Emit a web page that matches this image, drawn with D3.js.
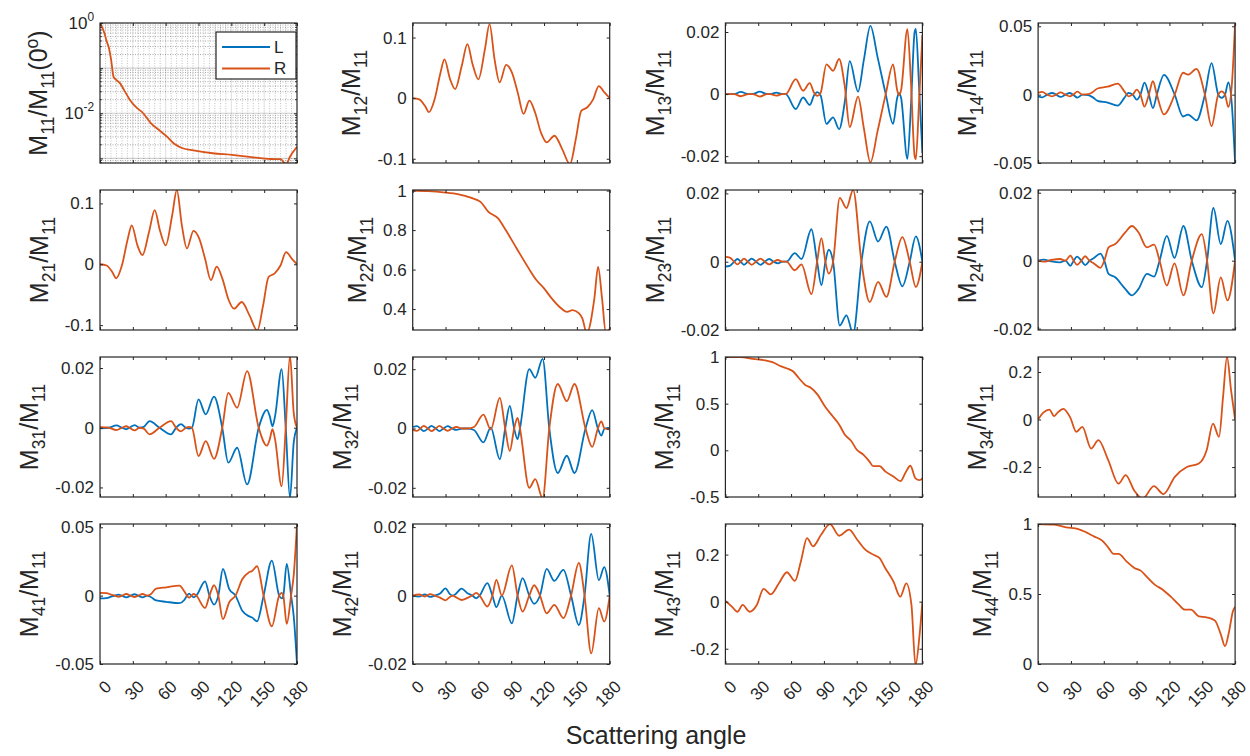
<!DOCTYPE html>
<html>
<head>
<meta charset="utf-8">
<script src="https://d3js.org/d3.v7.min.js"></script>
<style>
  body { margin: 0; background: #fff; }
  text { font-family: "Liberation Sans", Arial, Helvetica, sans-serif; fill: #262626; }
</style>
</head>
<body>
<script>
const W = 1250, H = 756;
const angleTicks = [0, 30, 60, 90, 120, 150, 180];

// single-curve panels: [angle, value]
const m11 = [[0,1],[2,0.8],[4.2,0.58],[6,0.4],[7.8,0.30],[10.2,0.15],[12.4,0.064],[14.8,0.055],[18.4,0.046],[21.9,0.033],[27.2,0.020],[32.5,0.014],[39.5,0.010],[46.6,0.006],[53.7,0.0043],[60.7,0.0031],[67.8,0.0021],[74.8,0.0017],[85.4,0.0015],[103,0.0013],[120.7,0.0012],[138,0.00107],[156,0.00097],[165,0.00096],[170,0.00074],[173.7,0.0011],[180,0.0018]];
const m12 = [[0,0],[6,-0.002],[11.3,-0.013],[14.8,-0.023],[20,-0.002],[25.4,0.042],[29,0.064],[34.2,0.031],[38.8,0.015],[44.8,0.053],[50,0.089],[54.7,0.056],[60,0.031],[66,0.081],[70.2,0.122],[74.8,0.064],[79.4,0.026],[85.4,0.055],[90.7,0.042],[96,0.009],[101.3,-0.026],[106.6,-0.004],[111.9,-0.024],[117.2,-0.057],[122.5,-0.073],[129.5,-0.062],[136.6,-0.084],[143.7,-0.109],[149,-0.068],[154,-0.021],[159.6,-0.015],[164.9,-0.002],[170,0.020],[175.4,0.009],[180,0]];
const m21 = m12;
const m22 = [[0,1.0],[14,0.997],[28,0.991],[42,0.981],[53,0.964],[62,0.943],[69,0.893],[78,0.859],[85,0.8],[95,0.707],[106,0.606],[113,0.547],[120,0.505],[127,0.454],[134,0.412],[141,0.386],[146,0.395],[152,0.378],[155,0.353],[159,0.28],[166,0.454],[169.4,0.614],[173,0.454],[176.5,0.28],[180,0.30]];
const m33 = [[0,1.0],[14,1.0],[25,0.98],[36,0.965],[43,0.945],[51,0.90],[58,0.87],[62,0.845],[67,0.775],[73,0.70],[78,0.67],[84,0.60],[91,0.47],[98,0.365],[104,0.275],[109,0.17],[115,0.10],[120,0.007],[126,-0.046],[131.5,-0.118],[135,-0.17],[141,-0.17],[146,-0.225],[153.5,-0.28],[160,-0.33],[164.5,-0.24],[169,-0.165],[173.7,-0.30],[177.4,-0.32],[180,-0.30]];
const m34 = [[0,0],[5,0.03],[10.3,0.042],[14.7,0.014],[18,0.03],[23.1,0.045],[29.4,0.008],[34.9,-0.052],[40.4,-0.031],[48.5,-0.122],[55.1,-0.087],[64,-0.17],[73.5,-0.27],[80,-0.234],[88,-0.30],[95.5,-0.333],[105.8,-0.28],[114.6,-0.314],[124.9,-0.241],[135.9,-0.2],[146.9,-0.185],[154,-0.129],[159.8,-0.017],[165.3,-0.073],[169,0.095],[172.6,0.264],[176.3,0.124],[180,0]];
const m43 = [[0,0.003],[5.9,-0.021],[11,-0.043],[15.8,-0.014],[22,-0.043],[28.7,-0.014],[34.9,0.054],[41.5,0.031],[48.9,0.078],[56.2,0.125],[63.5,0.088],[69,0.172],[74.6,0.27],[80,0.235],[87.4,0.284],[95.5,0.33],[104,0.28],[113,0.306],[120.5,0.263],[127.8,0.221],[135,0.2],[140.7,0.186],[146,0.143],[153.5,0.086],[159.8,0.021],[165.3,0.078],[170,-0.014],[173.7,-0.27],[177.4,-0.142],[180,0]];
const m44 = [[0,1.0],[14.7,0.995],[25.7,0.976],[36.7,0.964],[44,0.94],[51.4,0.91],[58.8,0.88],[64.3,0.83],[69,0.786],[73.5,0.786],[80.8,0.733],[88,0.686],[93.7,0.667],[99,0.626],[106.5,0.567],[113.9,0.531],[121,0.483],[128.6,0.424],[134,0.388],[139.6,0.388],[147,0.34],[154,0.333],[161.6,0.31],[167,0.21],[170.8,0.127],[174.5,0.233],[178,0.376],[180,0.41]];

// two-curve panels: [angle, R, L]
const m13 = [[0,0,0],[8,0,0],[14,-0.0007,0.0007],[21,0,0],[25,0,0],[31.4,-0.0008,0.0008],[38,0,0],[41,0,0],[46.6,-0.0005,0.0005],[52,0,0],[55.1,0,0],[64.3,0.0048,-0.0048],[71,0.0011,-0.0011],[77.1,0.0035,-0.0035],[81,0.0004,-0.0004],[84,-0.0006,0.0006],[87,0.0004,-0.0004],[92.3,0.0096,-0.0096],[98.4,0.0075,-0.0075],[103.9,0.0113,-0.0113],[109,0.0027,-0.0027],[113.6,-0.0106,0.0106],[121.2,-0.0008,0.0008],[126.5,-0.011,0.011],[132.5,-0.022,0.022],[139,-0.012,0.012],[146.5,0,0],[153.2,0.0096,-0.0096],[157,0.0012,-0.0012],[158.7,-0.0003,0.0003],[160.5,0.0012,-0.0012],[166.3,0.0209,-0.0209],[169.5,0.004,-0.004],[172.9,-0.02,0.02],[174,-0.021,0.021],[177,-0.002,0.002],[180,0.019,-0.019]];
const m14 = [[0,0.0012,-0.0012],[3.7,0.002,-0.002],[8.3,0,0],[12.9,-0.0012,0.0012],[16.5,0,0],[20.5,0.0017,-0.0017],[25,0,0],[28.8,-0.0012,0.0012],[32,0,0],[35.9,0.0022,-0.0022],[40.5,0,0],[45.7,0.0003,-0.0003],[50,0.002,-0.002],[54.3,0.0045,-0.0045],[63.5,0.0058,-0.0058],[72.7,0.008,-0.008],[78.8,0.0024,-0.0024],[82.5,-0.0012,0.0012],[86.5,0,0],[90.1,0.0037,-0.0037],[93.5,0,0],[97.2,-0.0088,0.0088],[101.2,0,0],[104.9,0.0098,-0.0098],[108.5,0,0],[115,-0.0145,0.0145],[124.8,0,0],[132.5,0.016,-0.016],[137,0.0146,-0.0146],[144.7,0.0188,-0.0188],[152.4,0,0],[158.5,-0.023,0.023],[164.6,0,0],[167.7,0.0024,-0.0024],[170.8,0,0],[173.8,-0.009,0.009],[176.9,0.006,-0.006],[180,0.052,-0.05]];
const m23 = [[0,0.0014,-0.0014],[4,0.0012,-0.0012],[8,0,0],[11,-0.0008,0.0008],[14,0,0],[17,0.0009,-0.0009],[20.5,0,0],[24,-0.0009,0.0009],[28,0,0],[32,0.0009,-0.0009],[36,0,0],[40,-0.0008,0.0008],[44,0,0],[48,0.0005,-0.0005],[52,0,0],[55.7,0,0],[63.4,-0.0025,0.0025],[69.5,-0.0008,0.0008],[78.6,-0.0095,0.0095],[83.8,0,0],[87.7,0.0069,-0.0069],[91.4,0,0],[94.4,-0.0035,0.0035],[98.4,0,0],[104.5,0.0187,-0.0187],[110.6,0.0157,-0.0157],[116.7,0.021,-0.021],[124.3,0,0],[131.9,-0.0118,0.0118],[139.5,-0.0059,0.0059],[147.1,-0.0103,0.0103],[154.7,0,0],[161.7,0.0072,-0.0072],[168.4,0,0],[174,-0.0074,0.0074],[180,0,0]];
const m24 = [[0,0,0],[5,-0.0003,0.0003],[12,0.0002,-0.0002],[20,0.0005,-0.0005],[25,0,0],[29.5,0.0015,-0.0015],[32.5,0,0],[35.6,-0.0012,0.0012],[39.5,0,0],[43,0.0013,-0.0013],[47,0,0],[51,-0.0008,0.0008],[56.9,-0.0021,0.0021],[60.5,0,0],[64.4,0.0039,-0.0039],[70.5,0.0049,-0.0049],[79.6,0.0083,-0.0083],[85.7,0.0102,-0.0102],[91.8,0.0083,-0.0083],[99.4,0.0039,-0.0039],[106,0.0047,-0.0047],[111,0,0],[117.6,-0.0073,0.0073],[124.6,-0.0008,0.0008],[132.8,-0.0102,0.0102],[140.4,0,0],[149.6,0.0078,-0.0078],[154.4,0,0],[160.2,-0.0155,0.0155],[166.9,-0.0049,0.0049],[173,-0.0117,0.0117],[180,0,0]];
const m31 = [[0,0.0002,-0.0002],[8,0,0],[15,-0.0008,0.0008],[20,0,0],[24,0.0005,-0.0005],[27,0,0],[31.7,-0.0009,0.0009],[36,0,0],[40,-0.0003,0.0003],[45.3,-0.0022,0.0022],[54.4,0,0],[64.9,0.0022,-0.0022],[69.5,0,0],[74,-0.0012,0.0012],[78.5,0,0],[81.5,0.0003,-0.0003],[84,0,0],[90,-0.0095,0.0095],[96.6,-0.0045,0.0045],[104.2,-0.0104,0.0104],[111.7,0,0],[117.2,0.0117,-0.0117],[125.3,0.0067,-0.0067],[134.4,0.019,-0.019],[145,0,0],[152.5,-0.006,0.006],[155,-0.004,0.004],[157.6,-0.0005,0.0005],[160,-0.004,0.004],[166,-0.0196,0.0196],[169.7,0,0],[173.6,0.0242,-0.0235],[177,0.005,-0.005],[180,0,0]];
const m32 = [[0,-0.0005,0.0005],[4,-0.0008,0.0008],[7,0,0],[10,0.0009,-0.0009],[14,0,0],[17,-0.0009,0.0009],[21,0,0],[24.5,0.0009,-0.0009],[28,0,0],[32,-0.0008,0.0008],[36,0,0],[40,0.0005,-0.0005],[45,0,0],[50,0,0],[56,0.0005,-0.0005],[64.6,0.0047,-0.0047],[71.3,-0.0003,0.0003],[79.6,0.0103,-0.0103],[84.5,0,0],[88.7,-0.0076,0.0076],[92.7,0,0],[95.8,0.0036,-0.0036],[98,0,0],[106.5,-0.02,0.02],[112,-0.0171,0.0171],[118.7,-0.0235,0.0235],[124.8,0,0],[132.5,0.015,-0.015],[140.8,0.0092,-0.0092],[147.8,0.015,-0.015],[157.9,0,0],[164,-0.0062,0.0062],[169.2,0,0],[172.3,0.0024,-0.0024],[175.3,0,0],[180,-0.0003,0.0003]];
const m41 = [[0,0.002,-0.002],[6,0.0018,-0.0018],[10,0.0008,-0.0008],[13.6,0,0],[17,-0.0008,0.0008],[20,0,0],[24,0.0012,-0.0012],[28,0,0],[31.5,-0.001,0.001],[35,0,0],[39,0.0012,-0.0012],[43,0,0],[46,0.0008,-0.0008],[51.3,0.0051,-0.0035],[60.4,0.0061,-0.0045],[72.5,0.0073,-0.0055],[77,0.0032,-0.0032],[79.5,0,0],[81.5,-0.0015,0.0015],[83.5,0,0],[85.5,0.0012,-0.0012],[88,0,0],[96,-0.009,0.0105],[100,0,0],[104.2,0.0076,-0.0065],[108.1,0,0],[112.3,-0.0172,0.0195],[118,-0.005,0.005],[123.8,0,0],[130,0.012,-0.011],[135.9,0.017,-0.015],[139,0.018,-0.016],[143.5,0.0215,-0.0188],[149.5,0,0],[157,-0.0224,0.0256],[163.7,0,0],[166,0.002,-0.002],[167.5,0,0],[170.6,-0.0207,0.0232],[174.6,0,0],[177,0.015,-0.015],[180,0.0524,-0.05]];
const m42 = [[0,0,0],[6,0.0003,-0.0003],[11,-0.0003,0.0003],[16,0.0004,-0.0004],[20,0,0],[25,-0.0006,0.0006],[30,-0.0014,0.0021],[34,-0.0004,0.0004],[36.7,0,0],[39,-0.0004,0.0004],[44.7,-0.0013,0.002],[50,-0.0007,0.0007],[54.5,0,0],[58,0.0008,-0.0008],[61.2,0,0],[68.2,-0.0032,0.0036],[72.8,0,0],[76.5,0.0046,-0.0034],[81.4,0,0],[90.6,0.0088,-0.0081],[95.8,0,0],[100.4,-0.0047,0.0051],[106.5,0,0],[111,0.003,-0.0024],[116.3,0,0],[122.4,-0.0052,0.0078],[129.4,-0.0027,0.0043],[137.7,-0.0066,0.0075],[144.7,0,0],[151.8,0.0095,-0.0086],[157,0,0],[163.1,-0.0169,0.018],[170.1,-0.0037,0.0045],[175,-0.0076,0.0083],[180,0,0]];

const panels = [
  {row:0, col:0, ij:"11", log:true, domain:[7.9e-4, 1], data:m11},
  {row:0, col:1, ij:"12", domain:[-0.107, 0.124], ticks:[-0.1, 0, 0.1], data:m12},
  {row:0, col:2, ij:"13", domain:[-0.0222, 0.0229], ticks:[-0.02, 0, 0.02], data:m13},
  {row:0, col:3, ij:"14", domain:[-0.05, 0.0524], ticks:[-0.05, 0, 0.05], data:m14},
  {row:1, col:0, ij:"21", domain:[-0.108, 0.122], ticks:[-0.1, 0, 0.1], data:m21},
  {row:1, col:1, ij:"22", domain:[0.294, 1.003], ticks:[0.4, 0.6, 0.8, 1], data:m22},
  {row:1, col:2, ij:"23", domain:[-0.02, 0.021], ticks:[-0.02, 0, 0.02], data:m23},
  {row:1, col:3, ij:"24", domain:[-0.0204, 0.0208], ticks:[-0.02, 0, 0.02], data:m24},
  {row:2, col:0, ij:"31", domain:[-0.0232, 0.0237], ticks:[-0.02, 0, 0.02], data:m31},
  {row:2, col:1, ij:"32", domain:[-0.0231, 0.0241], ticks:[-0.02, 0, 0.02], data:m32},
  {row:2, col:2, ij:"33", domain:[-0.5, 1.0], ticks:[-0.5, 0, 0.5, 1], data:m33},
  {row:2, col:3, ij:"34", domain:[-0.326, 0.263], ticks:[-0.2, 0, 0.2], data:m34},
  {row:3, col:0, ij:"41", domain:[-0.05, 0.0524], ticks:[-0.05, 0, 0.05], data:m41},
  {row:3, col:1, ij:"42", domain:[-0.02, 0.0209], ticks:[-0.02, 0, 0.02], data:m42},
  {row:3, col:2, ij:"43", domain:[-0.265, 0.33], ticks:[-0.2, 0, 0.2], data:m43},
  {row:3, col:3, ij:"44", domain:[0, 1], ticks:[0, 0.5, 1], data:m44}
];

const blue = "#0072BD", orange = "#D95319", ink = "#262626";
const left0 = 100, colStep = 312.7, pw = 197;
const top0 = 23, rowStep = 167, ph = 140;
const tickFs = 17, labFs = 25;

const svg = d3.select("body").append("svg").attr("width", W).attr("height", H);
svg.append("rect").attr("width", W).attr("height", H).attr("fill", "#fff");

panels.forEach(p => {
  const x0 = left0 + p.col * colStep, y0 = top0 + p.row * rowStep;
  const g = svg.append("g").attr("transform", `translate(${x0},${y0})`);
  const xs = d3.scaleLinear().domain([0, 180]).range([0, pw]);
  const ys = (p.log ? d3.scaleLog() : d3.scaleLinear()).domain(p.domain).range([ph, 0]);
  const clipId = "clip" + p.ij;
  g.append("clipPath").attr("id", clipId).append("rect").attr("width", pw).attr("height", ph);

  let majors = p.ticks, minors = [];
  if (p.log) {
    majors = [1, 1e-1, 1e-2, 1e-3];
    for (let e = -4; e < 0; e++) for (let k = 2; k <= 9; k++) {
      const v = k * Math.pow(10, e);
      if (v > p.domain[0] && v < p.domain[1]) minors.push(v);
    }
    // grid (major solid, minor dotted) in both directions
    const xMinor = d3.range(5, 180, 5).filter(a => a % 30 !== 0);
    const grid = g.append("g");
    grid.selectAll(".gxm").data(xMinor).join("line")
      .attr("x1", d => xs(d)).attr("x2", d => xs(d)).attr("y1", 0).attr("y2", ph)
      .attr("stroke", "rgba(38,38,38,0.28)").attr("stroke-dasharray", "1,1.5");
    grid.selectAll(".gym").data(minors).join("line")
      .attr("x1", 0).attr("x2", pw).attr("y1", d => ys(d)).attr("y2", d => ys(d))
      .attr("stroke", "rgba(38,38,38,0.4)").attr("stroke-width", 1).attr("stroke-dasharray", "1,1.5");
    grid.selectAll(".gxM").data(angleTicks.slice(1, -1)).join("line")
      .attr("x1", d => xs(d)).attr("x2", d => xs(d)).attr("y1", 0).attr("y2", ph)
      .attr("stroke", "rgba(38,38,38,0.15)");
    grid.selectAll(".gyM").data(majors.filter(v => v < 1)).join("line")
      .attr("x1", 0).attr("x2", pw).attr("y1", d => ys(d)).attr("y2", d => ys(d))
      .attr("stroke", "rgba(38,38,38,0.22)").attr("stroke-width", 1.2);
  }

  // curves
  const plot = g.append("g").attr("clip-path", `url(#${clipId})`);
  const line = k => d3.line().x(d => xs(d[0])).y(d => ys(d[k])).curve(d3.curveMonotoneX);
  if (p.data[0].length === 3) {
    plot.append("path").datum(p.data).attr("d", line(2))
      .attr("fill", "none").attr("stroke", blue).attr("stroke-width", 1.8);
  }
  plot.append("path").datum(p.data).attr("d", line(1))
    .attr("fill", "none").attr("stroke", orange).attr("stroke-width", 1.8);

  // axes (inward ticks on all four sides)
  const styleAxis = a => { a.select(".domain").remove(); a.selectAll("line").attr("stroke", ink); };
  const yTickVals = majors.filter(v => v >= p.domain[0] && v <= p.domain[1]);
  g.append("g").call(d3.axisTop(xs).tickValues(angleTicks).tickSize(-3).tickFormat("")).call(styleAxis);
  const bottom = g.append("g").attr("transform", `translate(0,${ph})`)
    .call(d3.axisBottom(xs).tickValues(angleTicks).tickSize(-3).tickFormat(p.row === 3 ? d => String(d) : ""))
    .call(styleAxis);
  bottom.selectAll("text").attr("y", null).attr("dy", null)
    .attr("text-anchor", "end").attr("dominant-baseline", "central")
    .attr("transform", "translate(8,20) rotate(-45)")
    .attr("font-size", tickFs).attr("fill", ink).attr("font-family", null);
  const leftAx = g.append("g")
    .call(d3.axisLeft(ys).tickValues(yTickVals).tickSize(-3).tickPadding(6)
      .tickFormat(p.log ? "" : d => String(d)))
    .call(styleAxis);
  leftAx.selectAll("text").attr("font-size", tickFs).attr("fill", ink).attr("font-family", null)
    .attr("dy", null).attr("dominant-baseline", "central");
  g.append("g").attr("transform", `translate(${pw},0)`)
    .call(d3.axisRight(ys).tickValues(yTickVals).tickSize(-3).tickFormat("")).call(styleAxis);
  if (p.log) {
    g.append("g").selectAll("line").data(minors).join("line")
      .attr("x1", 0).attr("x2", 1.8).attr("y1", d => ys(d)).attr("y2", d => ys(d)).attr("stroke", ink);
    g.append("g").selectAll("line").data(minors).join("line")
      .attr("x1", pw).attr("x2", pw - 1.8).attr("y1", d => ys(d)).attr("y2", d => ys(d)).attr("stroke", ink);
    [[1, "0"], [1e-2, "-2"]].forEach(([v, ex]) => {
      const t = leftAx.append("text").attr("x", -6).attr("y", ys(v) + 6)
        .attr("text-anchor", "end").attr("font-size", tickFs).attr("fill", ink);
      t.append("tspan").text("10");
      t.append("tspan").attr("font-size", tickFs * 0.7).attr("dy", -8).text(ex);
    });
  }

  // box
  g.append("rect").attr("width", pw).attr("height", ph)
    .attr("fill", "none").attr("stroke", ink).attr("stroke-width", 1.2);

  // y label, placed left of the widest tick label
  let maxW = 0;
  leftAx.selectAll("text").each(function () { maxW = Math.max(maxW, this.getBBox().width); });
  const lx = -6 - maxW - 17;
  const lab = g.append("text").attr("transform", `translate(${lx},${ph / 2}) rotate(-90)`)
    .attr("text-anchor", "middle").attr("font-size", labFs).attr("fill", ink);
  lab.append("tspan").text("M");
  lab.append("tspan").attr("font-size", labFs * 0.7).attr("dy", 7).text(p.ij);
  lab.append("tspan").attr("dy", -7).text("/M");
  lab.append("tspan").attr("font-size", labFs * 0.7).attr("dy", 7).text("11");
  if (p.log) {
    lab.append("tspan").attr("dy", -7).text("(0");
    lab.append("tspan").attr("font-size", labFs * 0.7).attr("dy", -9).text("o");
    lab.append("tspan").attr("dy", 9).text(")");
  }

  // legend in the first panel
  if (p.log) {
    const lg = g.append("g");
    lg.append("rect").attr("x", 116).attr("y", 9).attr("width", 80).attr("height", 47)
      .attr("fill", "#fff").attr("stroke", ink).attr("stroke-width", 1.2);
    [["L", blue, 24], ["R", orange, 45.5]].forEach(([name, c, yy]) => {
      lg.append("line").attr("x1", 122).attr("x2", 170).attr("y1", yy).attr("y2", yy)
        .attr("stroke", c).attr("stroke-width", 1.8);
      lg.append("text").attr("x", 174).attr("y", yy).attr("dominant-baseline", "central")
        .attr("font-size", tickFs).attr("fill", ink).text(name);
    });
  }
});

svg.append("text").attr("x", 656).attr("y", 744).attr("text-anchor", "middle")
  .attr("font-size", labFs).attr("fill", ink).text("Scattering angle");
</script>
</body>
</html>
